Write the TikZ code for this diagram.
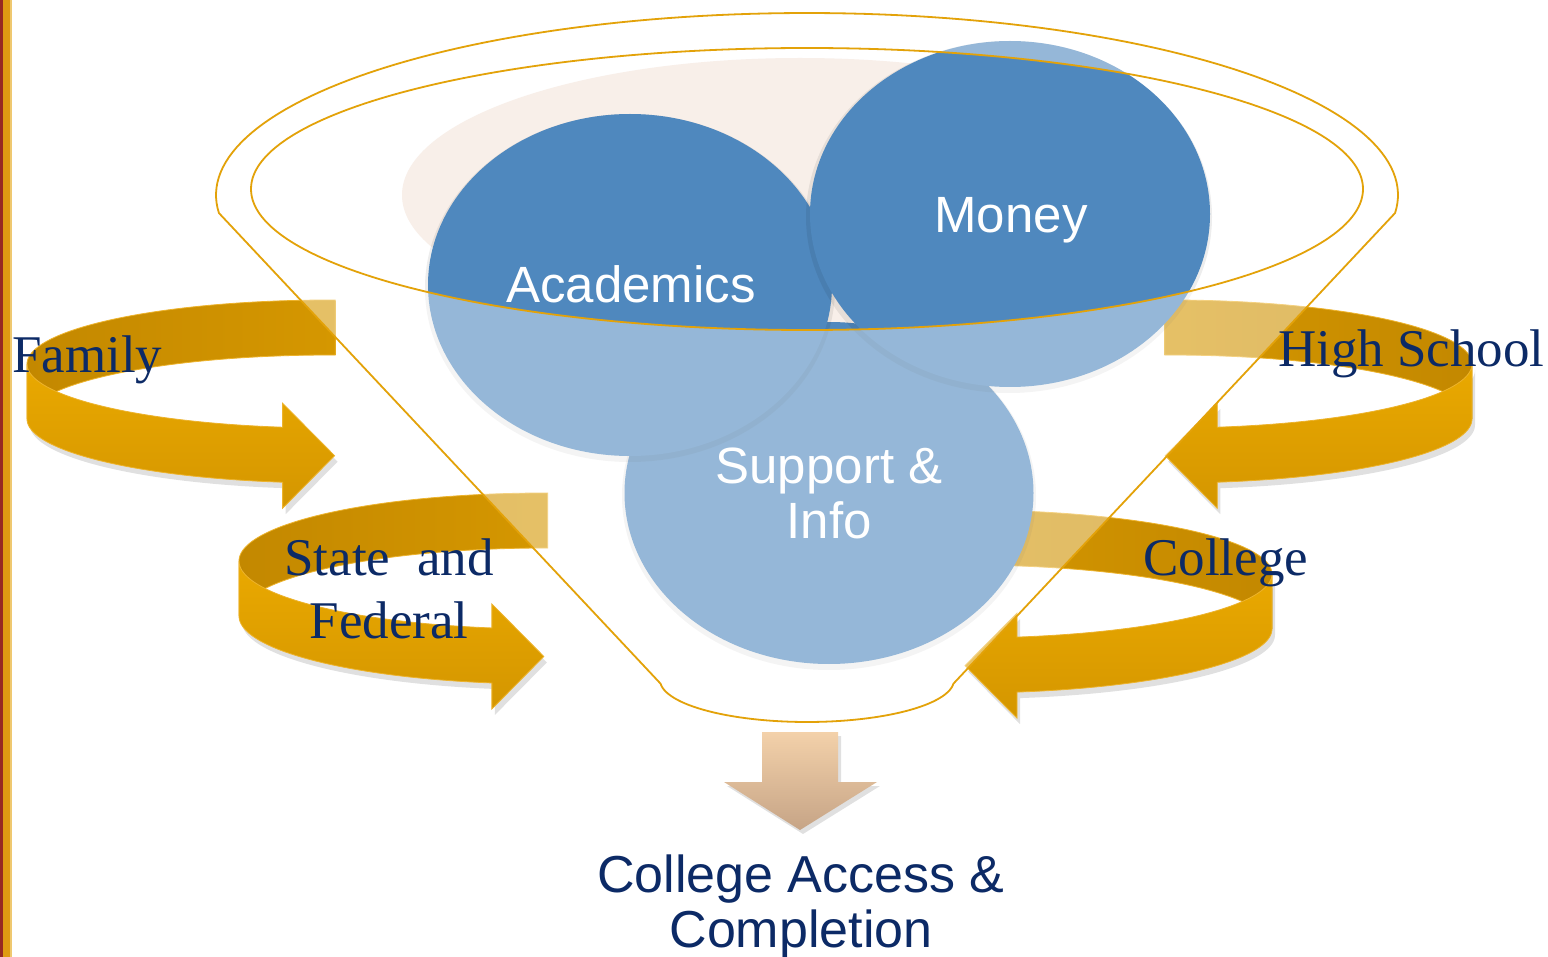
\documentclass[tikz,border=0pt]{standalone}
\usepackage{fontspec}
\setmainfont{Liberation Serif}
\setsansfont{Liberation Sans}
\definecolor{gold}{HTML}{E3A209}
\definecolor{navy}{HTML}{0C2A66}
\definecolor{cblue}{HTML}{4F88BE}
\definecolor{pinkish}{HTML}{F8EFE9}
\definecolor{bandB}{HTML}{D59700}
\definecolor{bandBd}{HTML}{C38800}
\definecolor{bandFt}{HTML}{EAA900}
\definecolor{bandFb}{HTML}{D49600}
\definecolor{bandEdge}{HTML}{EDB32C}
\definecolor{beigeT}{HTML}{F3D1AA}
\definecolor{beigeB}{HTML}{C6A486}
\definecolor{barRed}{HTML}{962A22}
\definecolor{barOr}{HTML}{DF9B12}
\definecolor{barLt}{HTML}{EFC870}
\newcommand\bandback[8]{%
  \path[#1] plot[domain=#7:#8,samples=60,variable=\t] ({#2+#4*cos(\t)},{#3+#5*sin(\t)})
    -- plot[domain=#8:#7,samples=60,variable=\t] ({#2+#4*cos(\t)},{#3+#5*sin(\t)+#6}) -- cycle;}
\newcommand\bandfront[9]{%
  \pgfmathsetmacro\xb{#2+#4*cos(#8)}%
  \pgfmathsetmacro\yt{#3+#5*sin(#8)}%
  \path[#1] plot[domain=#7:#8,samples=60,variable=\t] ({#2+#4*cos(\t)},{#3+#5*sin(\t)})
    -- ({\xb},{\yt-24}) -- ({\xb+(#9)},{\yt+#6/2+1}) -- ({\xb},{\yt+#6+26})
    -- plot[domain=#8:#7,samples=60,variable=\t] ({#2+#4*cos(\t)},{#3+#5*sin(\t)+#6}) -- cycle;}
\newcommand\funnelouter{plot[domain=174.3:365.7,samples=120,variable=\t] ({807+591*cos(\t)},{195+182*sin(\t)})
   -- plot[domain=5:175,samples=60,variable=\t] ({807+147*cos(\t)},{680+42*sin(\t)}) -- cycle}
\begin{document}
\begin{tikzpicture}[x=1pt,y=-1pt,
  funnel/.style={draw=gold,line width=1.8pt},
  lab/.style={font=\fontsize{53}{63}\selectfont,text=navy,inner sep=0pt},
  ctext/.style={font=\sffamily\fontsize{51}{55}\selectfont,text=white,inner sep=0pt,align=center},
  btext/.style={font=\sffamily\fontsize{52}{55}\selectfont,text=navy,inner sep=0pt,align=center},
  backL/.style={left color=bandBd,right color=bandB,draw=bandEdge,line width=0.8pt},
  backR/.style={left color=bandB,right color=bandBd,draw=bandEdge,line width=0.8pt},
  front/.style={top color=bandFt,bottom color=bandFb,draw=bandEdge,line width=0.8pt},
  shad/.style={fill=black,fill opacity=0.12,draw=none},
  cshad/.style={fill=black,fill opacity=0.07},
]
\useasboundingbox (0,0) rectangle (1548,957);
\fill[white] (0,0) rectangle (1548,957);
% left bar
\fill[barRed] (0,0) rectangle (3,957);
\fill[barOr] (3,0) rectangle (10,957);
\fill[barLt] (10,0) rectangle (12,957);
% back bands
\bandback{backL}{330}{364}{303}{64}{55}{-89}{-180}
\bandback{backL}{545}{561}{306}{68}{55}{-89.5}{-180}
\bandback{backR}{1170}{364}{302}{64}{55}{-91}{0}
\bandback{backR}{966}{574}{306}{64}{55}{-92}{0}
% front bands with heads
\bandfront{shad,shift={(3,6)}}{330}{364}{303}{64}{55}{180}{99}{52}
\bandfront{front}{330}{364}{303}{64}{55}{180}{99}{52}
\bandfront{shad,shift={(3,6)}}{545}{561}{306}{68}{55}{180}{100}{52}
\bandfront{front}{545}{561}{306}{68}{55}{180}{100}{52}
\bandfront{shad,shift={(3,6)}}{1170}{364}{302}{64}{55}{0}{81}{-52}
\bandfront{front}{1170}{364}{302}{64}{55}{0}{81}{-52}
\bandfront{shad,shift={(3,6)}}{966}{574}{306}{64}{55}{0}{80.4}{-52}
\bandfront{front}{966}{574}{306}{64}{55}{0}{80.4}{-52}
% liquid surface
\fill[pinkish] (800,195) ellipse [x radius=398pt, y radius=137pt];
% circles
\fill[cshad] (829,496) ellipse [x radius=207pt, y radius=174pt];
\fill[cblue] (829,493) ellipse [x radius=204.5pt, y radius=171pt];
\fill[cshad] (630,288) ellipse [x radius=205pt, y radius=174pt];
\fill[cblue] (630,285) ellipse [x radius=202pt, y radius=171pt];
\fill[cshad] (1009,217) ellipse [x radius=203pt, y radius=176pt];
\fill[cblue] (1010,214) ellipse [x radius=200pt, y radius=173pt];
% funnel body veil
\fill[white,fill opacity=0.4,even odd rule] \funnelouter (807,189) ellipse [x radius=556pt, y radius=141pt];
% funnel outlines
\draw[funnel,line join=round] \funnelouter;
\draw[funnel] (807,189) ellipse [x radius=556pt, y radius=141pt];
% down arrow
\fill[shad] (765,736) -- (841,736) -- (841,786) -- (880,786) -- (803,834) -- (727,786) -- (765,786) -- cycle;
\shade[top color=beigeT,bottom color=beigeB] (762,732) -- (838,732) -- (838,782) -- (877,782) -- (800,830) -- (724,782) -- (762,782) -- cycle;
% labels
\node[lab,anchor=base west] (fam) at (12,373) {Family};
\node[lab,anchor=base west] (hs) at (1278,367) {High School};
\node[lab,anchor=base,align=center] (sf) at (389,638) {State\ \ and\\Federal};
\node[lab,anchor=base west] (col) at (1143,575) {College};
\node[ctext,anchor=base] (acad) at (631,303) {Academics};
\node[ctext,anchor=base] (mon) at (1011,233) {Money};
\node[ctext,anchor=base] (sup) at (829,538) {Support \&\\Info};
\node[btext,anchor=base] (out) at (801,947) {College Access \&\\Completion};
\end{tikzpicture}
\end{document}
